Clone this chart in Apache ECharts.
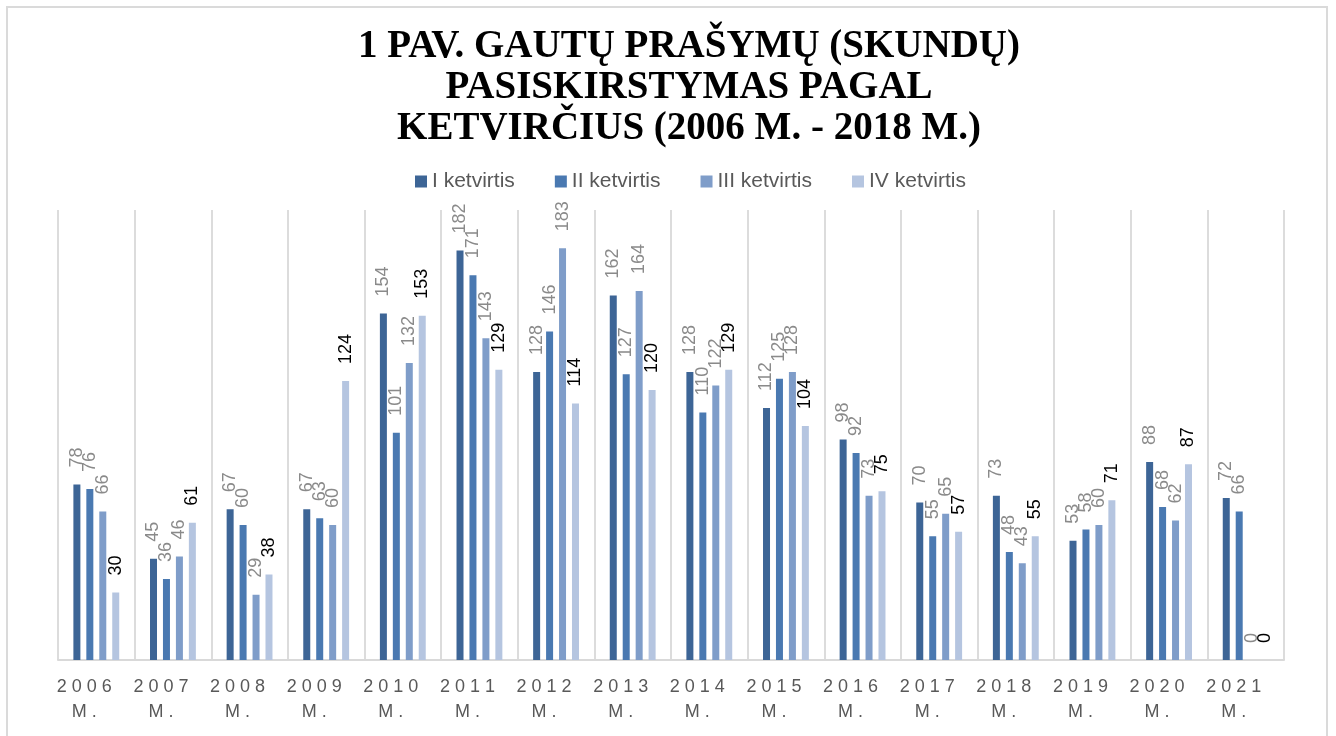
<!DOCTYPE html>
<html>
<head>
<meta charset="utf-8">
<script src="https://cdn.jsdelivr.net/npm/echarts@6/dist/echarts.min.js"></script>
<style>
    html, body { margin: 0; padding: 0; background: #fff; overflow: hidden; }
    #frame { position: absolute; left: 6px; top: 6px; width: 1322px; height: 760px; border: 2px solid #dadada; box-sizing: border-box; }
    #chart { position: absolute; left: 0; top: 0; width: 1336px; height: 736px; }
</style>
</head>
<body>
<div id="frame"></div>
<div id="chart"></div>
<script>
const years = ['2006', '2007', '2008', '2009', '2010', '2011', '2012', '2013', '2014', '2015', '2016', '2017', '2018', '2019', '2020', '2021'];
const seriesNames = ['I ketvirtis', 'II ketvirtis', 'III ketvirtis', 'IV ketvirtis'];
const q1 = [78, 45, 67, 67, 154, 182, 128, 162, 128, 112, 98, 70, 73, 53, 88, 72];
const q2 = [76, 36, 60, 63, 101, 171, 146, 127, 110, 125, 92, 55, 48, 58, 68, 66];
const q3 = [66, 46, 29, 60, 132, 143, 183, 164, 122, 128, 73, 65, 43, 60, 62, 0];
const q4 = [30, 61, 38, 124, 153, 129, 114, 120, 129, 104, 75, 57, 55, 71, 87, 0];

const colors = ['#3d6596', '#4a79b1', '#7f9dc9', '#b5c5e0'];
const labelColors = ['#8a8a8a', '#8a8a8a', '#8a8a8a', '#000000'];

const myChart = echarts.init(document.getElementById('chart'));

const makeSeries = (name, data, i) => ({
    name: name,
    type: 'bar',
    data: data,
    barWidth: 7,
    barGap: '85%',
    itemStyle: { color: colors[i] },
    label: {
        show: true,
        position: 'top',
        rotate: 90,
        align: 'left',
        verticalAlign: 'middle',
        distance: 17,
        fontFamily: 'Liberation Sans',
        fontSize: 18,
        color: labelColors[i],
    },
});

const option = {
    animation: false,
    color: colors,
    title: {
        text: '1 PAV. GAUTŲ PRAŠYMŲ (SKUNDŲ)\nPASISKIRSTYMAS PAGAL\nKETVIRČIUS (2006 M. - 2018 M.)',
        left: 689,
        top: 26,
        padding: 0,
        textAlign: 'center',
        textStyle: {
            fontFamily: 'Liberation Serif',
            fontWeight: 'bold',
            fontSize: 39,
            lineHeight: 41,
            color: '#000',
        },
    },
    legend: {
        top: 166,
        left: 410,
        itemWidth: 12,
        itemHeight: 12,
        itemGap: 40,
        icon: 'rect',
        textStyle: {
            fontFamily: 'Liberation Sans',
            fontSize: 21,
            color: '#595959',
        },
        data: seriesNames,
    },
    grid: {
        left: 58,
        right: 52,
        top: 210,
        bottom: 76,
    },
    xAxis: {
        type: 'category',
        data: years,
        axisTick: { show: false },
        axisLine: { lineStyle: { color: '#d9d9d9', width: 2 } },
        splitLine: { show: true, interval: 0, lineStyle: { color: '#dcdcdc', width: 2 } },
        axisLabel: {
            interval: 0,
            margin: 15,
            padding: [0, 24, 0, 0],
            fontFamily: 'Liberation Sans',
            fontSize: 18,
            lineHeight: 25,
            color: '#595959',
            formatter: (v) => v.split('').join(' ') + '\nM .',
        },
    },
    yAxis: {
        type: 'value',
        min: 0,
        max: 200,
        show: false,
        splitLine: { show: false },
    },
    series: [
        makeSeries(seriesNames[0], q1, 0),
        makeSeries(seriesNames[1], q2, 1),
        makeSeries(seriesNames[2], q3, 2),
        makeSeries(seriesNames[3], q4, 3),
    ],
};

myChart.setOption(option);
</script>
</body>
</html>
